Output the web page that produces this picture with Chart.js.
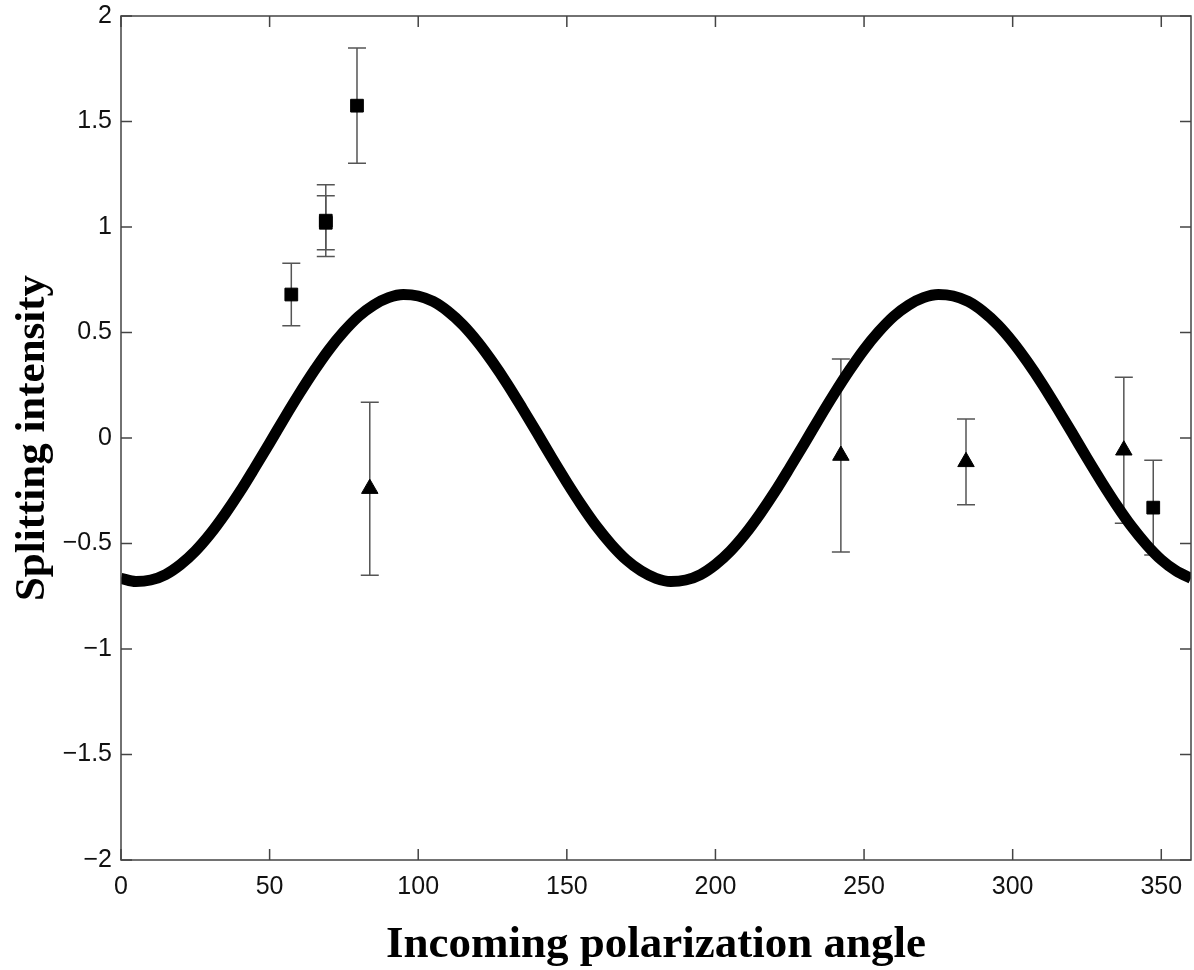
<!DOCTYPE html>
<html>
<head>
<meta charset="utf-8">
<title>Splitting intensity vs incoming polarization angle</title>
<script src="https://cdn.jsdelivr.net/npm/chart.js@4/dist/chart.umd.min.js"></script>
<style>
  html, body { margin: 0; padding: 0; background: #ffffff; }
  #chart { display: block; }
</style>
</head>
<body>
<canvas id="chart" width="1194" height="970"></canvas>
<script>
// Model curve, sampled every 5 degrees
const curveAngles = [
  0, 5, 10, 15, 20, 25, 30, 35, 40, 45, 50, 55, 60, 65, 70, 75, 80, 85,
  90, 95, 100, 105, 110, 115, 120, 125, 130, 135, 140, 145, 150, 155, 160, 165, 170, 175,
  180, 185, 190, 195, 200, 205, 210, 215, 220, 225, 230, 235, 240, 245, 250, 255, 260, 265,
  270, 275, 280, 285, 290, 295, 300, 305, 310, 315, 320, 325, 330, 335, 340, 345, 350, 355, 360
];
const curveValues = [
  -0.665, -0.680, -0.673, -0.647, -0.600, -0.536, -0.455, -0.360, -0.255, -0.141, -0.024, 0.095,
  0.210, 0.319, 0.419, 0.505, 0.577, 0.630, 0.665, 0.680, 0.673, 0.647, 0.600, 0.536,
  0.455, 0.360, 0.255, 0.141, 0.024, -0.095, -0.210, -0.319, -0.419, -0.505, -0.577, -0.630,
  -0.665, -0.680, -0.673, -0.647, -0.600, -0.536, -0.455, -0.360, -0.255, -0.141, -0.024, 0.095,
  0.210, 0.319, 0.419, 0.505, 0.577, 0.630, 0.665, 0.680, 0.673, 0.647, 0.600, 0.536,
  0.455, 0.360, 0.255, 0.141, 0.024, -0.095, -0.210, -0.319, -0.419, -0.505, -0.577, -0.630, -0.665
];

// Measurements drawn as squares
const squareAngles = [57.3, 68.9, 68.9, 79.4, 347.3];
const squareValues = [0.68, 1.03, 1.02, 1.575, -0.33];
const squareErrors = [0.148, 0.17, 0.128, 0.273, 0.224];

// Measurements drawn as triangles
const triangleAngles = [83.7, 242.2, 284.3, 337.4];
const triangleValues = [-0.24, -0.083, -0.113, -0.058];
const triangleErrors = [0.41, 0.457, 0.203, 0.346];

// Axis ranges and tick steps
const xRange = [0, 360];
const yRange = [-2, 2];
const xStep = 50;
const yStep = 0.5;

const xTitle = 'Incoming polarization angle';
const yTitle = 'Splitting intensity';

const toPoints = (xs, ys) => xs.map((x, i) => ({ x: x, y: ys[i] }));

const tickFont = { family: '"Liberation Sans", Arial, sans-serif', size: 25 };
const serif = '"Liberation Serif", "Times New Roman", serif';

const minusSign = v => String(v).replace('-', '\u2212');

// Error bars, frame with inward ticks, and axis titles
const framePlugin = {
  id: 'frameAndErrors',
  beforeDatasetsDraw(chart) {
    const ctx = chart.ctx;
    const xs = chart.scales.x, ys = chart.scales.y;
    const cap = 9;
    ctx.save();
    ctx.strokeStyle = '#555555';
    ctx.lineWidth = 1.5;
    const drawBars = (angles, values, errors) => {
      angles.forEach((a, i) => {
        const px = xs.getPixelForValue(a);
        const top = ys.getPixelForValue(values[i] + errors[i]);
        const bot = ys.getPixelForValue(values[i] - errors[i]);
        ctx.beginPath();
        ctx.moveTo(px, top); ctx.lineTo(px, bot);
        ctx.moveTo(px - cap, top); ctx.lineTo(px + cap, top);
        ctx.moveTo(px - cap, bot); ctx.lineTo(px + cap, bot);
        ctx.stroke();
      });
    };
    drawBars(squareAngles, squareValues, squareErrors);
    drawBars(triangleAngles, triangleValues, triangleErrors);
    ctx.restore();
  },
  afterDatasetsDraw(chart) {
    const ctx = chart.ctx;
    const a = chart.chartArea;
    const xs = chart.scales.x, ys = chart.scales.y;
    const tl = 11;
    ctx.save();
    ctx.strokeStyle = '#444444';
    ctx.lineWidth = 1.5;
    ctx.strokeRect(a.left, a.top, a.right - a.left, a.bottom - a.top);
    ctx.beginPath();
    xs.ticks.forEach(t => {
      const px = xs.getPixelForValue(t.value);
      ctx.moveTo(px, a.bottom); ctx.lineTo(px, a.bottom - tl);
      ctx.moveTo(px, a.top); ctx.lineTo(px, a.top + tl);
    });
    ys.ticks.forEach(t => {
      const py = ys.getPixelForValue(t.value);
      ctx.moveTo(a.left, py); ctx.lineTo(a.left + tl, py);
      ctx.moveTo(a.right, py); ctx.lineTo(a.right - tl, py);
    });
    ctx.stroke();
    ctx.restore();
  },
  afterDraw(chart) {
    const ctx = chart.ctx;
    const a = chart.chartArea;
    ctx.save();
    ctx.fillStyle = '#000000';
    ctx.textAlign = 'center';
    ctx.textBaseline = 'alphabetic';
    ctx.font = 'bold 45px ' + serif;
    ctx.fillText(xTitle, (a.left + a.right) / 2, 957);
    ctx.font = 'bold 43px ' + serif;
    ctx.translate(44, (a.top + a.bottom) / 2);
    ctx.rotate(-Math.PI / 2);
    ctx.fillText(yTitle, 0, 0);
    ctx.restore();
  }
};

new Chart(document.getElementById('chart'), {
  type: 'scatter',
  data: {
    datasets: [
      {
        label: 'model',
        data: toPoints(curveAngles, curveValues),
        showLine: true,
        borderColor: '#000000',
        borderWidth: 11,
        pointRadius: 0,
        cubicInterpolationMode: 'monotone',
        clip: 0,
        order: 2
      },
      {
        label: 'squares',
        data: toPoints(squareAngles, squareValues),
        pointStyle: 'rect',
        pointRadius: 9,
        pointBackgroundColor: '#000000',
        pointBorderColor: '#000000',
        pointBorderWidth: 1,
        showLine: false,
        order: 1
      },
      {
        label: 'triangles',
        data: toPoints(triangleAngles, triangleValues),
        pointStyle: 'triangle',
        pointRadius: 9.5,
        pointBackgroundColor: '#000000',
        pointBorderColor: '#000000',
        pointBorderWidth: 1,
        showLine: false,
        order: 1
      }
    ]
  },
  options: {
    responsive: false,
    animation: false,
    events: [],
    layout: { autoPadding: false, padding: { top: 16, right: 3, bottom: 0, left: 0 } },
    plugins: {
      legend: { display: false },
      tooltip: { enabled: false },
      title: { display: false }
    },
    scales: {
      x: {
        type: 'linear',
        min: xRange[0],
        max: xRange[1],
        grid: { display: false, drawTicks: false },
        border: { display: false },
        ticks: {
          stepSize: xStep,
          includeBounds: false,
          autoSkip: false,
          maxRotation: 0,
          padding: 12,
          color: '#111111',
          font: tickFont,
          callback: v => minusSign(v)
        },
        afterFit: s => {
          s.height = 110;
          s.paddingLeft = 0;
          s.paddingRight = 0;
        }
      },
      y: {
        type: 'linear',
        min: yRange[0],
        max: yRange[1],
        grid: { display: false, drawTicks: false },
        border: { display: false },
        ticks: {
          stepSize: yStep,
          autoSkip: false,
          padding: 9,
          color: '#111111',
          font: tickFont,
          callback: v => minusSign(v)
        },
        afterFit: s => {
          s.width = 121;
          s.paddingTop = 0;
          s.paddingBottom = 0;
        }
      }
    }
  },
  plugins: [framePlugin]
});
</script>
</body>
</html>
